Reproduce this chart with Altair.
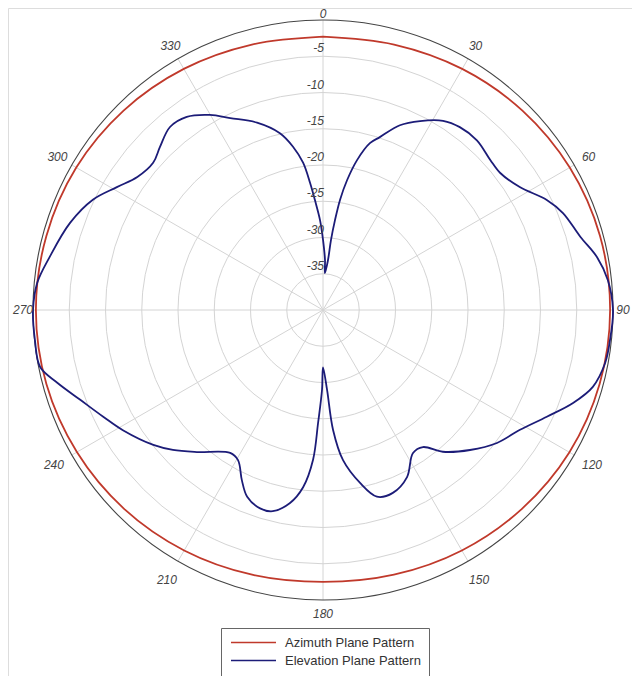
import altair as alt
import pandas as pd

# ---------------- data ----------------
az_angles = [0, 15, 30, 45, 60, 75, 90, 105, 120, 135, 150, 165, 180,
             195, 210, 225, 240, 255, 270, 285, 300, 315, 330, 345, 360]
az_db = [-2.3, -2.1, -1.6, -1.1, -0.7, -0.45, -0.4, -0.5, -0.75, -1.2, -1.7, -2.2, -2.5,
         -2.2, -1.7, -1.2, -0.8, -0.5, -0.4, -0.5, -0.7, -1.1, -1.6, -2.1, -2.3]

el_angles = [0, 2.3, 3.0, 5.7, 6.5, 7.6, 8.8, 10.5, 12.8, 15.7, 18.2, 22.6, 27.2, 32.4,
             36.8, 42.2, 48.1, 52.3, 58.0, 63.8, 68.0, 74.1, 79.1, 84.0, 90, 96.0,
             100.6, 105.9, 110.4, 115.5, 121.3, 127.4, 133.6, 139.8, 143.9, 147.8,
             153.3, 159.1, 163.9, 167.9, 172.4, 175.2, 177.1, 180, 180.7, 182.5,
             183.8, 186.4, 189.7, 194.0, 197.6, 202.1, 205.5, 209.5, 213.0, 221.6,
             227.0, 231.5, 239.0, 244.1, 249.7, 254.7, 258.6, 264.1, 270, 275.4,
             281.0, 289.0, 295.6, 300.8, 305.6, 310.9, 315, 320.1, 324.8, 329.9,
             334.2, 340.6, 346.3, 349.6, 352.3, 354.2, 355.8, 358.1, 360]
el_db = [-30.3, -33.1, -34.9, -33.1, -30.3, -27.5, -24.6, -21.8, -18.8, -16.1, -14.9,
         -12.4, -10.7, -9.1, -8.5, -8.4, -9.0, -9.1, -8.0, -5.6, -4.3, -3.1, -1.5, -0.5,
         0.0, -0.2, -0.4, -1.3, -3.2, -5.8, -8.2, -9.8, -12.0, -14.4, -16.6, -16.7,
         -14.2, -13.0, -13.2, -15.6, -19.1, -23.4, -29.0, -32.1, -29.0, -24.4, -19.3,
         -15.4, -13.0, -11.4, -11.3, -12.2, -14.0, -16.2, -16.5, -13.8, -11.7, -10.1,
         -7.8, -6.3, -4.3, -2.0, -0.2, -0.05, 0.0, -0.4, -1.6, -3.1, -4.8, -6.9, -8.5,
         -9.0, -8.2, -7.1, -7.4, -8.9, -10.6, -12.6, -14.9, -17.1, -19.5, -22.4, -24.8,
         -27.6, -30.3]

series_names = ["Azimuth Plane Pattern", "Elevation Plane Pattern"]
series_colors = ["#c0392b", "#1c1c78"]

ring_db = [-5, -10, -15, -20, -25, -30, -35]
ring_labels = ["-5", "-10", "-15", "-20", "-25", "-30", "-35"]
outer_db = [0]
spoke_angles = [0, 30, 60, 90, 120, 150, 180, 210, 240, 270, 300, 330]
spoke_labels = ["0", "30", "60", "90", "120", "150", "180", "210", "240", "270", "300", "330"]

# ---------------- tables ----------------
lines_df = pd.concat([
    pd.DataFrame({"series": series_names[0], "angle": az_angles, "db": az_db,
                  "idx": range(len(az_angles))}),
    pd.DataFrame({"series": series_names[1], "angle": el_angles, "db": el_db,
                  "idx": range(len(el_angles))}),
])
rings_df = pd.DataFrame({"db": ring_db, "label": ring_labels})
outer_df = pd.DataFrame({"db": outer_db})
spokes_df = pd.DataFrame({"angle": spoke_angles, "label": spoke_labels})

# ---------------- layout ----------------
W, H = 624, 668
PX = 7.25            # pixels per dB unit
CX, CY = 315, 302    # centre inside plot area
xdom = [-CX / PX, (W - CX) / PX]
ydom = [-(H - CY) / PX, CY / PX]

xs = alt.Scale(domain=xdom, nice=False, zero=False)
ys = alt.Scale(domain=ydom, nice=False, zero=False)

FONT = "Liberation Sans"

def X(f):
    return alt.X(f, type="quantitative", scale=xs, axis=None)

def Y(f):
    return alt.Y(f, type="quantitative", scale=ys, axis=None)

spokes = alt.Chart(spokes_df).transform_calculate(
    x0="0", y0="0",
    x1="40 * sin(datum.angle * PI / 180)",
    y1="40 * cos(datum.angle * PI / 180)",
).mark_rule(color="#d4d4d4", strokeWidth=1).encode(
    x=X("x0"), y=Y("y0"), x2="x1:Q", y2="y1:Q"
)

rings = alt.Chart(rings_df).transform_calculate(
    x0="0", y0="0",
    sz=f"pow(2 * (datum.db + 40) * {PX}, 2)",
).mark_point(shape="circle", filled=False, color="#d4d4d4", strokeWidth=1, opacity=1).encode(
    x=X("x0"), y=Y("y0"), size=alt.Size("sz:Q", scale=None, legend=None)
)

outer = alt.Chart(outer_df).transform_calculate(
    x0="0", y0="0",
    sz=f"pow(2 * (datum.db + 40) * {PX}, 2)",
).mark_point(shape="circle", filled=False, color="#444444", strokeWidth=1.1, opacity=1).encode(
    x=X("x0"), y=Y("y0"), size=alt.Size("sz:Q", scale=None, legend=None)
)

lines = alt.Chart(lines_df).transform_calculate(
    px="(datum.db + 40) * sin(datum.angle * PI / 180)",
    py="(datum.db + 40) * cos(datum.angle * PI / 180)",
).mark_line(interpolate="catmull-rom", strokeWidth=1.8).encode(
    x=X("px"), y=Y("py"),
    order=alt.Order("idx:Q"),
    detail="series:N",
    color=alt.Color(
        "series:N",
        scale=alt.Scale(domain=series_names, range=series_colors),
        legend=alt.Legend(
            title=None, orient="none", legendX=213, legendY=620,
            symbolType="M-5,0H5", symbolSize=81, symbolStrokeWidth=1.5,
            symbolOffset=18, labelOffset=25,
            labelFont=FONT, labelFontSize=13, labelColor="#333333",
            strokeColor="#666666", fillColor="white", padding=8,
            rowPadding=4, cornerRadius=0,
        ),
    ),
)

ring_text = alt.Chart(rings_df).transform_calculate(
    x0="0", ty="datum.db + 40",
).mark_text(font=FONT, fontSize=12, fontStyle="italic", color="#444444",
            align="right", baseline="middle", dy=-8, dx=1).encode(
    x=X("x0"), y=Y("ty"), text="label:N"
)

angle_text = alt.Chart(spokes_df).transform_calculate(
    a="datum.angle * PI / 180",
    tr=f"(300 - 4 * cos(datum.a) + 10 * abs(sin(2 * datum.a))) / {PX}",
    tx="datum.tr * sin(datum.a)",
    ty="datum.tr * cos(datum.a)",
).mark_text(font=FONT, fontSize=12, fontStyle="italic", color="#444444",
            align="center", baseline="middle").encode(
    x=X("tx"), y=Y("ty"), text="label:N"
)

chart = alt.layer(spokes, rings, outer, lines, ring_text, angle_text).properties(
    width=W, height=H,
    autosize=alt.AutoSizeParams(type="none"),
    padding=0,
).configure_view(stroke=None).configure(background="white")

chart.save("out.html", embed_options={"renderer": "svg", "actions": False})
